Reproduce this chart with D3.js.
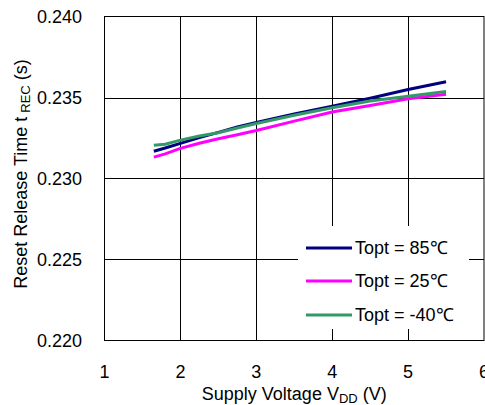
<!DOCTYPE html>
<html>
<head>
<meta charset="utf-8">
<script src="https://cdnjs.cloudflare.com/ajax/libs/d3/7.8.5/d3.min.js"></script>
<style>
  body { margin: 0; background: #fff; }
  text { font-family: "Liberation Sans", Arial, sans-serif; fill: #000; }
</style>
</head>
<body>
<div class="render"></div>
<script>
"use strict";

var width = 485;
var height = 405;

// supply voltage (V)
var vdd = [1.65, 1.8, 2.0, 2.25, 2.5, 2.75, 3.0, 3.5, 4.0, 4.5, 5.0, 5.5];
// reset release time (s)
var t85 = [0.23168, 0.23188, 0.23217, 0.23252, 0.23285, 0.23318, 0.23346, 0.23398, 0.23446, 0.23495, 0.23549, 0.23597];
var t25 = [0.23132, 0.23152, 0.23186, 0.23218, 0.23245, 0.2327, 0.23296, 0.23354, 0.2341, 0.2345, 0.23492, 0.2352];
var tm40 = [0.23205, 0.23212, 0.23237, 0.23262, 0.23282, 0.23312, 0.2334, 0.2339, 0.23437, 0.23478, 0.23508, 0.23537];

var seriesNames = ["Topt = 85\u2103", "Topt = 25\u2103", "Topt = -40\u2103"];
var seriesColors = ["#000080", "#ff00ff", "#339966"];
var xTicks = [1, 2, 3, 4, 5, 6];
var yTicks = [0.220, 0.225, 0.230, 0.235, 0.240];

var series = [t85, t25, tm40].map(function (vals, i) {
   return { name: seriesNames[i], color: seriesColors[i], pts: vals.map(function (v, j) { return [vdd[j], v]; }) };
});

var x = d3.scaleLinear().domain([1, 6]).range([104.5, 484]);
var y = d3.scaleLinear().domain([0.220, 0.240]).range([340.5, 16.5]);

var svg = d3.select('.render').append('svg').attr('width', width).attr('height', height);

// grid
svg.append('g').selectAll('line').data(xTicks.slice(1, -1)).enter().append('line')
   .attr('x1', function (d) { return Math.round(x(d)) + 0.5; })
   .attr('x2', function (d) { return Math.round(x(d)) + 0.5; })
   .attr('y1', y(0.240)).attr('y2', y(0.220))
   .attr('stroke', '#000').attr('stroke-width', 1);
svg.append('g').selectAll('line').data(yTicks.slice(1, -1)).enter().append('line')
   .attr('x1', x(1)).attr('x2', x(6))
   .attr('y1', function (d) { return Math.round(y(d)) + 0.5; })
   .attr('y2', function (d) { return Math.round(y(d)) + 0.5; })
   .attr('stroke', '#000').attr('stroke-width', 1);

// lines
var line = d3.line().x(function (d) { return x(d[0]); }).y(function (d) { return y(d[1]); });
svg.append('g').selectAll('path').data(series).enter().append('path')
   .attr('d', function (d) { return line(d.pts); })
   .attr('fill', 'none')
   .attr('stroke', function (d) { return d.color; })
   .attr('stroke-width', 3);

// frame
svg.append('rect')
   .attr('x', x(1)).attr('y', y(0.240))
   .attr('width', x(6) - x(1)).attr('height', y(0.220) - y(0.240))
   .attr('fill', 'none').attr('stroke', '#000').attr('stroke-width', 1);

// axes labels
svg.append('g').selectAll('text').data(yTicks).enter().append('text')
   .attr('x', 82).attr('y', function (d) { return y(d); }).attr('dy', '0.36em')
   .attr('text-anchor', 'end').style('font-size', '18px')
   .text(function (d) { return d3.format('.3f')(d); });
svg.append('g').selectAll('text').data(xTicks).enter().append('text')
   .attr('x', function (d) { return x(d); }).attr('y', 378)
   .attr('text-anchor', 'middle').style('font-size', '18px')
   .text(function (d) { return d; });

var xt = svg.append('text').attr('x', (x(1) + x(6)) / 2).attr('y', 400)
   .attr('text-anchor', 'middle').style('font-size', '18px');
xt.append('tspan').text('Supply Voltage V');
xt.append('tspan').attr('dy', 3).style('font-size', '13px').text('DD');
xt.append('tspan').attr('dy', -3).text(' (V)');

var yt = svg.append('text').attr('transform', 'translate(27,174) rotate(-90)')
   .attr('text-anchor', 'middle').style('font-size', '18px');
yt.append('tspan').text('Reset Release Time t');
yt.append('tspan').attr('dy', 3).attr('dx', 4).style('font-size', '13px').text('REC');
yt.append('tspan').attr('dy', -3).text(' (s)');

// legend
var lg = svg.append('g');
lg.append('rect').attr('x', 298).attr('y', 226).attr('width', 171).attr('height', 103).attr('fill', '#fff');
var rows = lg.selectAll('g').data(series).enter().append('g')
   .attr('transform', function (d, i) { return 'translate(306,' + [248, 281, 315][i] + ')'; });
rows.append('line').attr('x1', 0).attr('x2', 46).attr('y1', 0).attr('y2', 0)
   .attr('stroke', function (d) { return d.color; }).attr('stroke-width', 3);
rows.append('text').attr('x', 49).attr('dy', '0.36em').style('font-size', '18px')
   .text(function (d) { return d.name; });
</script>
</body>
</html>
